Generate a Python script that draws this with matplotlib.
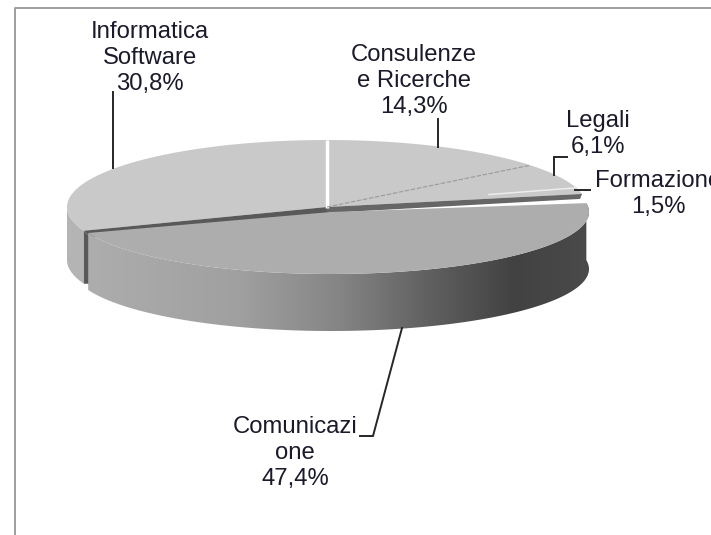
import numpy as np
import matplotlib
matplotlib.use("Agg")
import matplotlib.pyplot as plt
from matplotlib.colors import LinearSegmentedColormap
from matplotlib.patches import Polygon

labels = ["Consulenze\ne Ricerche", "Legali", "Formazione", "Comunicazi\none", "Informatica\nSoftware"]
values = [14.3, 6.1, 1.5, 47.4, 30.8]

CX, CY = 327, 207
RX, RY = 260, 67
DEPTH = 57
# exploded slice
CX2, CY2 = 331, 212
RX2, RY2 = 258, 62

plt.rcParams["font.family"] = ["Liberation Sans", "DejaVu Sans"]

fig = plt.figure(figsize=(7.11, 5.35), dpi=100)
ax = fig.add_axes([0, 0, 1, 1])
ax.set_xlim(0, 711)
ax.set_ylim(535, 0)
ax.axis("off")

# chart frame
ax.plot([14.5, 14.5, 711], [535, 7.5, 7.5], color="#969696", lw=1.3)


def rim(t0, t1, cx=CX, cy=CY, rx=RX, ry=RY, n=200):
    t = np.radians(np.linspace(t0, t1, n))
    return cx + rx * np.sin(t), cy - ry * np.cos(t)


edges = np.cumsum([0] + values) / sum(values) * 360
t_cons, t_leg, t_form, t_com, t_inf = edges[1:]

# informatica wall on the left
x, y = rim(t_com, 270)
ax.add_patch(Polygon(np.r_[np.c_[x, y], np.c_[x[::-1], y[::-1] + DEPTH - 4]], fc="#b4b4b4", ec="none", zorder=1))

# flat tops of the back slices
x, y = rim(t_com, 360 + t_form)
ax.add_patch(Polygon(np.r_[[[CX, CY]], np.c_[x, y]], fc="#c9c9c9", ec="none", zorder=2))

# dark cut faces
x0, y0 = rim(t_com, t_com)
ax.add_patch(Polygon([[x0[0], y0[0]], [CX, CY], [CX, CY + 6], [x0[0] + 7, y0[0] + 7]], fc="#595959", ec="none", zorder=3))
ax.add_patch(Polygon([[x0[0], y0[0]], [x0[0] + 7, y0[0] + 7], [x0[0] + 7, y0[0] + 53], [x0[0], y0[0] + 53]], fc="#595959", ec="none", zorder=3))
x1, y1 = rim(t_form, t_form)
ax.add_patch(Polygon([[CX, CY], [x1[0], y1[0]], [x1[0] - 2, y1[0] + 5], [CX, CY + 6]], fc="#666666", ec="none", zorder=3))

# front wall of comunicazione with the shading from left to right
x, y = rim(t_form + 3, t_com + 1, CX2, CY2, RX2, RY2)
wall = Polygon(np.r_[np.c_[x, y], np.c_[x[::-1], y[::-1] + DEPTH - 3 * (1 - np.cos(np.radians(0)))]], fc="none", ec="none", zorder=4)
ax.add_patch(wall)
wall_cmap = LinearSegmentedColormap.from_list("wall", [(0, "#adadad"), (0.3, "#a0a0a0"), (0.5, "#858585"), (0.68, "#606060"), (0.85, "#424242"), (1, "#4a4a4a")])
img = ax.imshow(np.linspace(0, 1, 256)[None, :], cmap=wall_cmap, extent=(88, 590, 340, 190), aspect="auto", zorder=4)
img.set_clip_path(wall)
ax.set_xlim(0, 711)
ax.set_ylim(535, 0)

# comunicazione top
x, y = rim(t_form + 3, t_com + 1, CX2, CY2, RX2, RY2)
ax.add_patch(Polygon(np.r_[[[CX2, CY2]], np.c_[x, y]], fc="#adadad", ec="none", zorder=5))

# slice separators
ax.plot([CX, CX], [CY - RY, CY + 1], color="white", lw=2.5, zorder=6, solid_capstyle="butt")
x, y = rim(t_cons, t_cons)
ax.plot([CX, x[0]], [CY, y[0]], color="#9a9a9a", lw=0.8, ls=(0, (4, 1.5)), zorder=6)
x, y = rim(t_leg, t_leg)
ax.plot([CX + 0.65 * (x[0] - CX), x[0]], [CY + 0.65 * (y[0] - CY), y[0]], color="#ececec", lw=1.1, zorder=6)

# leader lines
leaders = [
    ([438, 438], [147, 119]),
    ([554, 554, 567], [175, 157, 157]),
    ([575, 590], [190, 190]),
    ([402, 373, 360], [328, 436, 436]),
    ([113, 113], [168, 92]),
]
for lx, ly in leaders:
    ax.plot(lx, ly, color="#262626", lw=1.4, zorder=7, solid_joinstyle="miter")

# labels
pos = [(414, 81), (598, 134), (658, 194), (295, 453), (150, 58)]
for lab, val, (px, py) in zip(labels, values, pos):
    txt = lab + "\n" + f"{val:.1f}".replace(".", ",") + "%"
    ax.text(px, py, txt, ha="center", va="center", fontsize=17.2, color="#1a1a2a", linespacing=1.26, zorder=8)

fig.savefig("out.png", dpi=100)
